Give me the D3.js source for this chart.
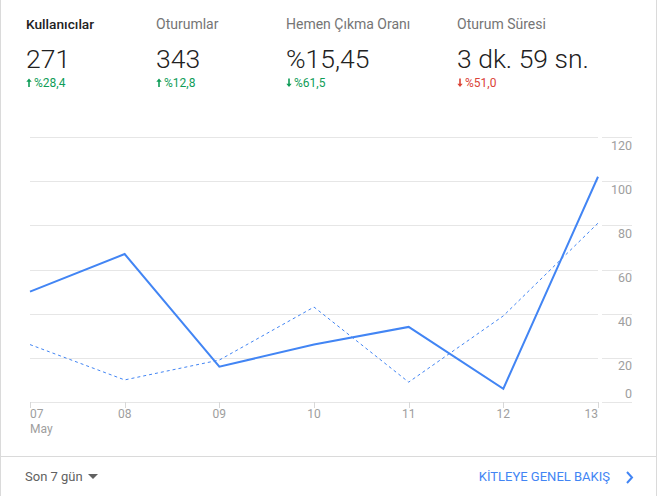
<!DOCTYPE html>
<html>
<head>
<meta charset="utf-8">
<script src="https://cdn.jsdelivr.net/npm/d3@7"></script>
<style>
  html, body { margin: 0; padding: 0; background: #fff; }
  svg { display: block; font-family: Roboto, 'Noto Sans', sans-serif; }
</style>
</head>
<body>
<svg id="chart" width="660" height="496"></svg>
<script>
const days = ['07', '08', '09', '10', '11', '12', '13'];
const users = [50, 67, 16, 26, 34, 6, 102];
const usersPrev = [26, 10, 19, 43, 9, 39, 81];
const yTicks = [0, 20, 40, 60, 80, 100, 120];

const metricNames = ['Kullanıcılar', 'Oturumlar', 'Hemen Çıkma Oranı', 'Oturum Süresi'];
const metricValues = ['271', '343', '%15,45', '3 dk. 59 sn.'];
const metricChanges = ['%28,4', '%12,8', '%61,5', '%51,0'];
const metricUp = [true, true, false, false];
const metricGood = [true, true, true, false];

const svg = d3.select('#chart');
const blue = '#4285f4';
const grid = '#e6e6e6';

// card border
svg.append('line').attr('x1', 0.5).attr('x2', 0.5).attr('y1', 0).attr('y2', 496)
  .attr('stroke', '#dadada');
svg.append('line').attr('x1', 656.5).attr('x2', 656.5).attr('y1', 0).attr('y2', 496)
  .attr('stroke', '#dadada');
svg.append('line').attr('x1', 0).attr('x2', 657).attr('y1', 456.5).attr('y2', 456.5)
  .attr('stroke', '#dadada');

// header metrics
const colX = [26, 156, 286, 457];
const head = svg.append('g');
metricNames.forEach((name, i) => {
  const g = head.append('g').attr('transform', `translate(${colX[i]},0)`);
  g.append('text')
    .attr('y', 29)
    .attr('font-size', i === 0 ? 13.7 : 14)
    .attr('font-weight', i === 0 ? 500 : 400)
    .attr('fill', i === 0 ? '#222' : '#757575')
    .text(name);
  g.append('text')
    .attr('y', 67.5)
    .attr('font-size', 26.5)
    .attr('font-weight', 300)
    .attr('fill', '#212121')
    .text(metricValues[i]);
  const col = metricGood[i] ? '#0f9d58' : '#db4437';
  const arrow = metricUp[i]
    ? 'M3 78.5 L0.3 81.8 L2.2 81.8 L2.2 87 L3.8 87 L3.8 81.8 L5.7 81.8 Z'
    : 'M3 87 L0.3 83.7 L2.2 83.7 L2.2 78.5 L3.8 78.5 L3.8 83.7 L5.7 83.7 Z';
  g.append('path').attr('d', arrow).attr('fill', col);
  g.append('text')
    .attr('x', 8)
    .attr('y', 87)
    .attr('font-size', 12)
    .attr('fill', col)
    .text(metricChanges[i]);
});

// chart scales
const x = d3.scalePoint().domain(days).range([30, 598]);
const y = d3.scaleLinear().domain([0, 120]).range([402, 137]);

// gridlines
const gridG = svg.append('g');
gridG.selectAll('line.main')
  .data(yTicks).enter()
  .append('line')
  .attr('class', 'main')
  .attr('x1', 30).attr('x2', 598)
  .attr('y1', (d) => Math.round(y(d)) + 0.5)
  .attr('y2', (d) => Math.round(y(d)) + 0.5)
  .attr('stroke', grid);
gridG.selectAll('line.side')
  .data(yTicks).enter()
  .append('line')
  .attr('class', 'side')
  .attr('x1', 602).attr('x2', 632)
  .attr('y1', (d) => Math.round(y(d)) + 0.5)
  .attr('y2', (d) => Math.round(y(d)) + 0.5)
  .attr('stroke', grid);

// y labels
svg.append('g').selectAll('text')
  .data(yTicks).enter()
  .append('text')
  .attr('x', 632)
  .attr('y', (d) => (d === 0 ? y(d) - 4.5 : y(d) + 12.5))
  .attr('text-anchor', 'end')
  .attr('font-size', 12.5)
  .attr('fill', '#9e9e9e')
  .text((d) => d);

// x ticks and labels
const xG = svg.append('g');
xG.selectAll('line')
  .data(days).enter()
  .append('line')
  .attr('x1', (d) => Math.round(x(d)) + 0.5)
  .attr('x2', (d) => Math.round(x(d)) + 0.5)
  .attr('y1', 402).attr('y2', 408)
  .attr('stroke', '#d8d8d8');
xG.selectAll('text')
  .data(days).enter()
  .append('text')
  .attr('x', (d) => x(d))
  .attr('y', 418)
  .attr('text-anchor', (d, i) => (i === 0 ? 'start' : i === days.length - 1 ? 'end' : 'middle'))
  .attr('font-size', 12)
  .attr('fill', '#9e9e9e')
  .text((d) => d);
xG.append('text')
  .attr('x', x(days[0]))
  .attr('y', 433)
  .attr('font-size', 12)
  .attr('fill', '#9e9e9e')
  .text('May');

// lines
const line = d3.line()
  .x((d, i) => x(days[i]))
  .y((d) => y(d));

svg.append('path')
  .datum(usersPrev)
  .attr('d', line)
  .attr('fill', 'none')
  .attr('stroke', blue)
  .attr('stroke-width', 1)
  .attr('stroke-dasharray', '3 3');

svg.append('path')
  .datum(users)
  .attr('d', line)
  .attr('fill', 'none')
  .attr('stroke', blue)
  .attr('stroke-width', 2);

// footer
svg.append('text')
  .attr('x', 25)
  .attr('y', 481)
  .attr('font-size', 13)
  .attr('fill', '#616161')
  .text('Son 7 gün');
svg.append('path')
  .attr('d', 'M88 474 L98 474 L93 479 Z')
  .attr('fill', '#616161');

svg.append('text')
  .attr('x', 610)
  .attr('y', 481)
  .attr('text-anchor', 'end')
  .attr('font-size', 13)
  .attr('fill', blue)
  .text('KİTLEYE GENEL BAKIŞ');
svg.append('path')
  .attr('d', 'M627 472 L632 477.5 L627 483')
  .attr('fill', 'none')
  .attr('stroke', blue)
  .attr('stroke-width', 2);
</script>
</body>
</html>
